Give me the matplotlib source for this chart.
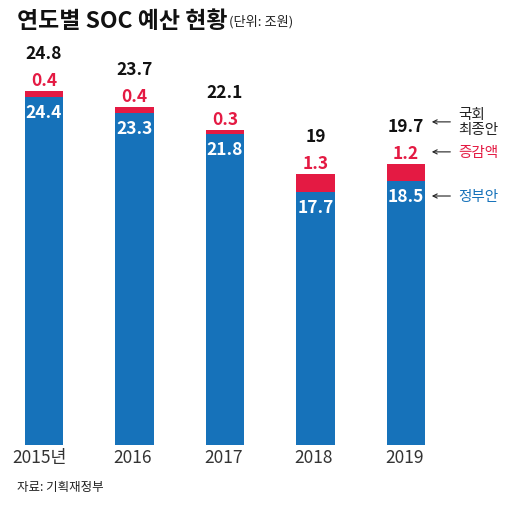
import matplotlib.pyplot as plt

plt.rcParams['font.family'] = ['Noto Sans CJK KR', 'DejaVu Sans']

years = ['2015년', '2016', '2017', '2018', '2019']
gov = [24.4, 23.3, 21.8, 17.7, 18.5]      # 정부안
change = [0.4, 0.4, 0.3, 1.3, 1.2]        # 증감액
final = [24.8, 23.7, 22.1, 19, 19.7]      # 국회 최종안

BLUE = '#1672ba'
RED = '#e41a43'
W, H = 510, 506
PX_X = 90.5   # pixels per bar step
PX_Y = 14.27  # pixels per 1 조원

fig = plt.figure(figsize=(W / 100, H / 100), dpi=100)
ax = fig.add_axes([0, 0, 1, 1])
ax.set_xlim(-44 / PX_X, (W - 44) / PX_X)
ax.set_ylim(-(H - 446) / PX_Y, 446 / PX_Y)
ax.axis('off')

x = list(range(len(years)))
ax.bar(x, gov, width=0.42, color=BLUE)
ax.bar(x, change, bottom=gov, width=0.42, color=RED)

for i in x:
    top = gov[i] + change[i]
    ax.text(i, top + 38 / PX_Y, f'{final[i]:g}', ha='center', va='center',
            fontsize=12.5, fontweight='bold', color='#111111')
    ax.text(i, top + 11 / PX_Y, f'{change[i]:g}', ha='center', va='center',
            fontsize=12.5, fontweight='bold', color=RED)
    ax.text(i, gov[i] - 15 / PX_Y, f'{gov[i]:g}', ha='center', va='center',
            fontsize=12.5, fontweight='bold', color='white')
    xo = -0.05 if i == 0 else -0.02
    ax.text(i + xo, -12 / PX_Y, years[i], ha='center', va='center',
            fontsize=12.5, fontweight='light', color='#333333')

# legend-like annotations on the right of the last bar
last = len(years) - 1
ann = [(gov[last] + change[last] + 42 / PX_Y, '국회\n최종안', '#222222'),
       (gov[last] + change[last] + 12 / PX_Y, '증감액', RED),
       (gov[last] - 15 / PX_Y, '정부안', BLUE)]
for y, label, col in ann:
    ax.annotate('', xy=(4.285, y), xytext=(4.49, y),
                arrowprops=dict(arrowstyle='->,head_length=0.3,head_width=0.15',
                                color='#222222', lw=0.8,
                                shrinkA=0, shrinkB=0))
    ax.text(4.575, y, label, ha='left', va='center', fontsize=10.5,
            fontweight='light', color=col, linespacing=1.1)

fig.text(17 / W, 1 - 21 / H, '연도별 SOC 예산 현황', ha='left', va='center',
         fontsize=16.5, fontweight='bold', color='#111111')
fig.text(229 / W, 1 - 22 / H, '(단위: 조원)', ha='left', va='center',
         fontsize=9.5, color='#222222')
fig.text(17 / W, 1 - 488 / H, '자료: 기획재정부', ha='left', va='center',
         fontsize=9, color='#222222')

fig.savefig('out.png', dpi=100)
